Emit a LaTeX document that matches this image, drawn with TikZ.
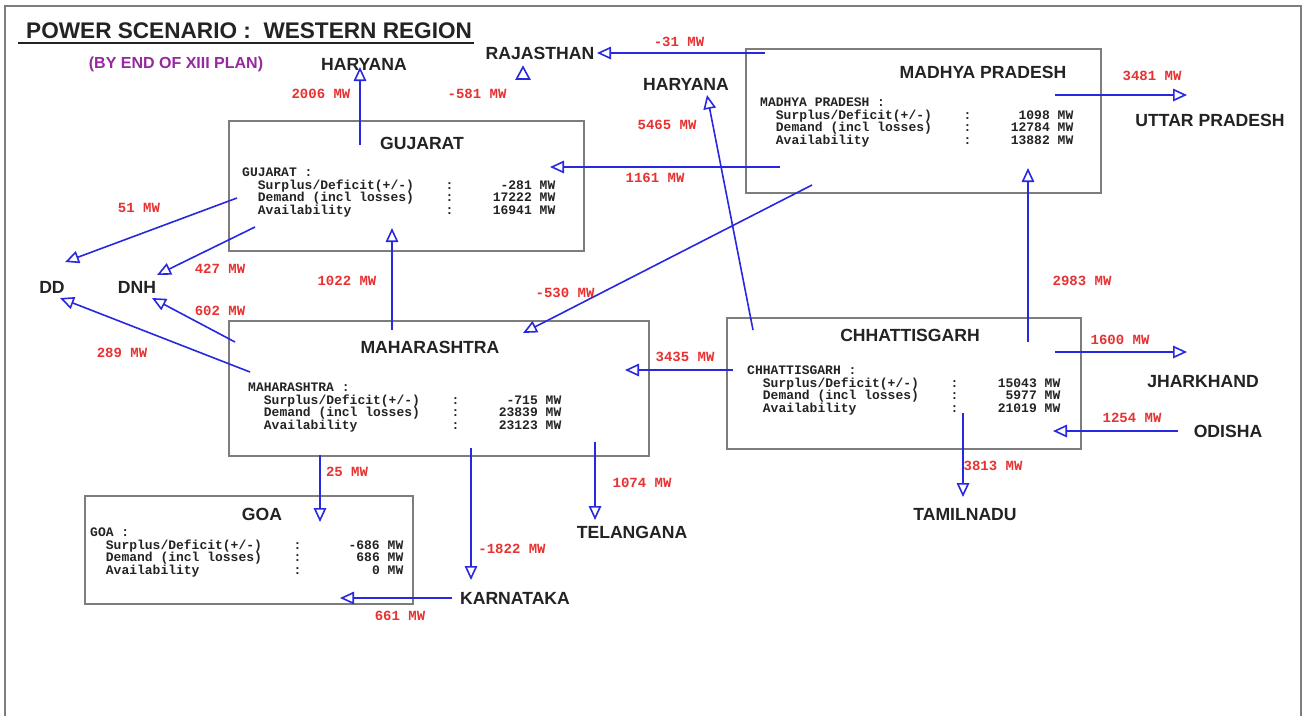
\documentclass[tikz,border=0pt]{standalone}
\usepackage{fontspec}
\setmainfont{Liberation Sans}
\newfontfamily\monof{Liberation Mono}
\usetikzlibrary{arrows.meta}
\definecolor{lineblue}{RGB}{40,40,225}
\definecolor{mwred}{RGB}{232,50,50}
\definecolor{plum}{RGB}{150,40,160}
\definecolor{boxgray}{RGB}{125,125,125}
\definecolor{txtgray}{RGB}{35,35,35}
\tikzset{
  state/.style={font=\fontsize{17.6}{17.6}\selectfont\bfseries, text=txtgray, inner sep=0pt},
  mwlab/.style={font=\monof\bfseries\fontsize{14}{14}\selectfont, text=mwred, inner sep=0pt},
  mono/.style={font=\monof\bfseries\fontsize{13}{13}\selectfont, text=txtgray, inner sep=0pt, anchor=base west},
  sbox/.style={draw=boxgray, line width=1.6pt, anchor=north west, inner sep=0pt},
  flow/.style={draw=lineblue, line width=1.6pt, -{Triangle[open, length=14pt, width=12.5pt]}},
}
\newcommand\datarow[5]{%
  \node[mono] (#1l) at (#2+15.7,#3) {#4};
  \node[mono, anchor=base] (#1c) at (#2+207.5,#3) {:};
  \node[mono, anchor=base east] (#1v) at (#2+290,#3) {#5};
  \node[mono] (#1u) at (#2+297.5,#3) {MW};
}
\newcommand\datablock[7]{% prefix, x0, header baseline, header, v1, v2, v3
  \node[mono] (#1h) at (#2,#3) {#4 :};
  \datarow{#1a}{#2}{#3+13}{Surplus/Deficit(+/-)}{#5}
  \datarow{#1b}{#2}{#3+25.5}{Demand (incl losses)}{#6}
  \datarow{#1c}{#2}{#3+38}{Availability}{#7}
}
\begin{document}
\begin{tikzpicture}[x=1pt,y=-1pt]
\useasboundingbox (0,0) rectangle (1306,716);
\fill[white] (0,0) rectangle (1306,716);
% frame
\draw[boxgray, line width=1.2pt] (5,716) -- (5,6) -- (1301,6) -- (1301,716);

% title
\node[font=\bfseries\fontsize{22.6}{22.6}\selectfont, text=txtgray, anchor=base west, inner sep=0pt] (title) at (26,38) {POWER SCENARIO :\ \ WESTERN REGION};
\draw[line width=1.5pt, txtgray] (18,43) -- (474,43);
\node[font=\bfseries\fontsize{16}{16}\selectfont, text=plum, inner sep=0pt] (sub) at (176,64) {(BY END OF XIII PLAN)};

% boxes (with a light shadow)
\foreach \bx/\by/\bw/\bh in {228/120/355/130, 745/48/355/144, 228/320/420/135, 726/317/354/131, 84/495/328/108}
  \draw[black!55, line width=1.6pt] (\bx+\bw+1.5,\by+3) -- (\bx+\bw+1.5,\by+\bh+1.5) -- (\bx+3,\by+\bh+1.5);
\node[sbox, minimum width=355pt, minimum height=130pt] (guj) at (228,120) {};
\node[sbox, minimum width=355pt, minimum height=144pt] (mp) at (745,48) {};
\node[sbox, minimum width=420pt, minimum height=135pt] (mah) at (228,320) {};
\node[sbox, minimum width=354pt, minimum height=131pt] (chh) at (726,317) {};
\node[sbox, minimum width=328pt, minimum height=108pt] (goa) at (84,495) {};

% box titles
\node[state] (gujT) at (422,143) {GUJARAT};
\node[state] (mpT) at (983,72) {MADHYA PRADESH};
\node[state] (mahT) at (430,347) {MAHARASHTRA};
\node[state] (chhT) at (910,335) {CHHATTISGARH};
\node[state] (goaT) at (262,514) {GOA};

% data
\datablock{g}{242}{176}{GUJARAT}{-281}{17222}{16941}
\datablock{m}{760}{106}{MADHYA PRADESH}{1098}{12784}{13882}
\datablock{h}{248}{391}{MAHARASHTRA}{-715}{23839}{23123}
\datablock{c}{747}{374}{CHHATTISGARH}{15043}{5977}{21019}
\datablock{o}{90}{536}{GOA}{-686}{686}{0}

% outside states
\node[state] (har1) at (364,64) {HARYANA};
\node[state] (raj) at (540,53) {RAJASTHAN};
\node[state] (har2) at (686,84) {HARYANA};
\node[state] (up) at (1210,120) {UTTAR PRADESH};
\node[state] (dd) at (52,287) {DD};
\node[state] (dnh) at (137,287) {DNH};
\node[state] (jhar) at (1203,382) {JHARKHAND};
\node[state] (odi) at (1228,431) {ODISHA};
\node[state] (tam) at (965,515) {TAMILNADU};
\node[state] (tel) at (632,532) {TELANGANA};
\node[state] (kar) at (515,598) {KARNATAKA};

% connector end points
\coordinate (gujH) at (360,145); \coordinate (har1T) at (360,67);
\coordinate (mpR) at (765,53);   \coordinate (rajT) at (597,53);
\coordinate (chhH) at (753,330); \coordinate (har2T) at (707,95);
\coordinate (mpU) at (1055,95);  \coordinate (upT) at (1187,95);
\coordinate (mpG) at (780,167);  \coordinate (gujT2) at (550,167);
\coordinate (gujD) at (237,198); \coordinate (ddT1) at (65,262);
\coordinate (gujN) at (255,227); \coordinate (dnhT1) at (157,275);
\coordinate (mahG) at (392,330); \coordinate (gujT3) at (392,228);
\coordinate (mpM) at (812,185);  \coordinate (mahT2) at (523,333);
\coordinate (chhM) at (1028,342);\coordinate (mpT2) at (1028,168);
\coordinate (mahN) at (235,342); \coordinate (dnhT2) at (152,298);
\coordinate (mahD) at (250,372); \coordinate (ddT2) at (60,298);
\coordinate (chhW) at (733,370); \coordinate (mahT3) at (625,370);
\coordinate (chhJ) at (1055,352);\coordinate (jharT) at (1187,352);
\coordinate (odiS) at (1178,431);\coordinate (chhT2) at (1053,431);
\coordinate (chhS) at (963,413); \coordinate (tamT) at (963,497);
\coordinate (mahO) at (320,455); \coordinate (goaT2) at (320,522);
\coordinate (mahL) at (595,442); \coordinate (telT) at (595,520);
\coordinate (mahK) at (471,448); \coordinate (karT) at (471,580);
\coordinate (karS) at (452,598); \coordinate (goaT3) at (340,598);

% connectors
\draw[flow] (gujH) -- (har1T);
\draw[flow] (mpR) -- (rajT);
\draw[flow] (chhH) -- (har2T);
\draw[flow] (mpU) -- (upT);
\draw[flow] (mpG) -- (gujT2);
\draw[flow] (gujD) -- (ddT1);
\draw[flow] (gujN) -- (dnhT1);
\draw[flow] (mahG) -- (gujT3);
\draw[flow] (mpM) -- (mahT2);
\draw[flow] (chhM) -- (mpT2);
\draw[flow] (mahN) -- (dnhT2);
\draw[flow] (mahD) -- (ddT2);
\draw[flow] (chhW) -- (mahT3);
\draw[flow] (chhJ) -- (jharT);
\draw[flow] (odiS) -- (chhT2);
\draw[flow] (chhS) -- (tamT);
\draw[flow] (mahO) -- (goaT2);
\draw[flow] (mahL) -- (telT);
\draw[flow] (mahK) -- (karT);
\draw[flow] (karS) -- (goaT3);
% lone triangle under Rajasthan
\draw[lineblue, line width=1.6pt, line join=miter] (516.5,79) -- (529.5,79) -- (523,67) -- cycle;

% MW labels
\node[mwlab] (l2006) at (321,94) {2006 MW};
\node[mwlab] (l581) at (477,94) {-581 MW};
\node[mwlab] (l31) at (679,42) {-31 MW};
\node[mwlab] (l5465) at (667,125) {5465 MW};
\node[mwlab] (l3481) at (1152,76) {3481 MW};
\node[mwlab] (l1161) at (655,178) {1161 MW};
\node[mwlab] (l51) at (139,208) {51 MW};
\node[mwlab] (l427) at (220,269) {427 MW};
\node[mwlab] (l1022) at (347,281) {1022 MW};
\node[mwlab] (l530) at (565,293) {-530 MW};
\node[mwlab] (l2983) at (1082,281) {2983 MW};
\node[mwlab] (l602) at (220,311) {602 MW};
\node[mwlab] (l289) at (122,353) {289 MW};
\node[mwlab] (l3435) at (685,357) {3435 MW};
\node[mwlab] (l1600) at (1120,340) {1600 MW};
\node[mwlab] (l1254) at (1132,418) {1254 MW};
\node[mwlab] (l3813) at (993,466) {3813 MW};
\node[mwlab] (l25) at (347,472) {25 MW};
\node[mwlab] (l1074) at (642,483) {1074 MW};
\node[mwlab] (l1822) at (512,549) {-1822 MW};
\node[mwlab] (l661) at (400,616) {661 MW};
\end{tikzpicture}
\end{document}
